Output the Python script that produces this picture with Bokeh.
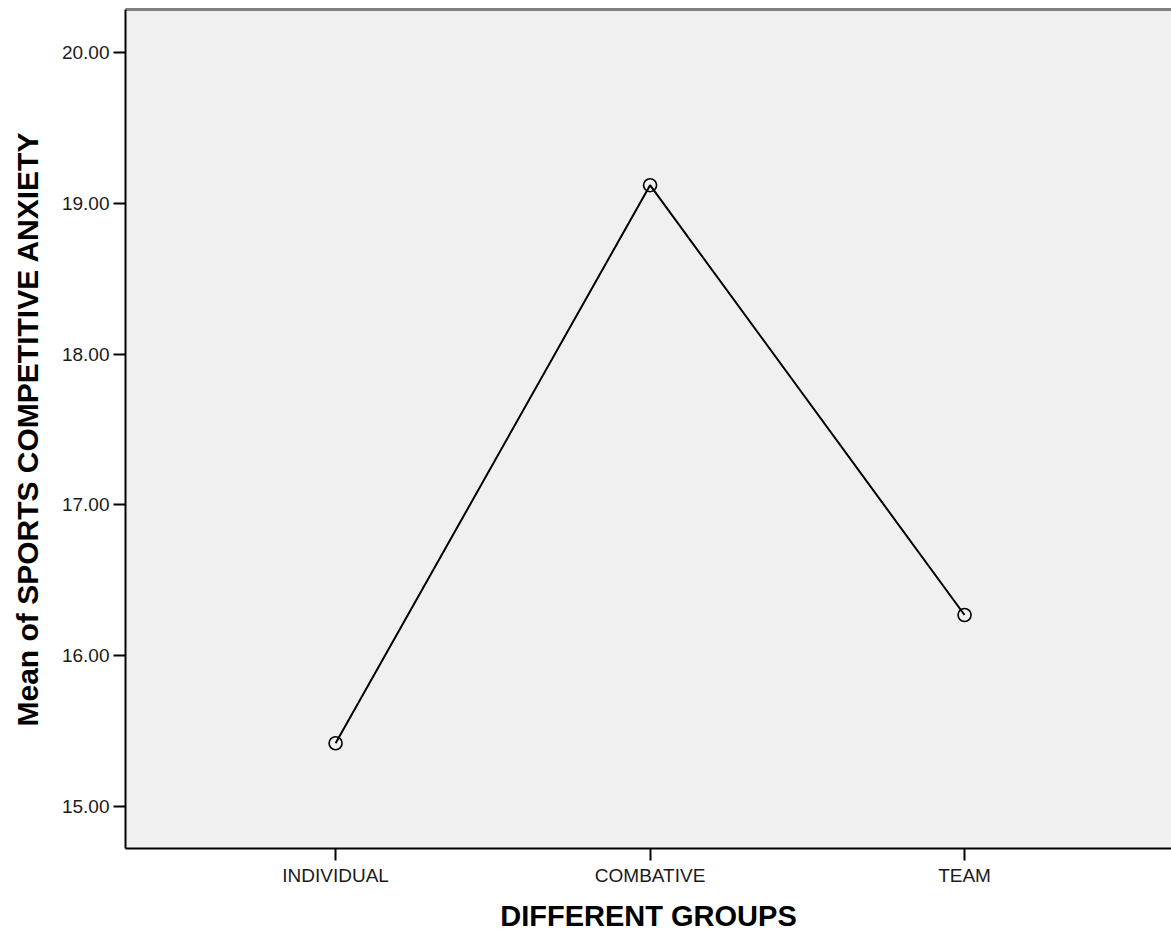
from bokeh.plotting import figure
from bokeh.models import Range1d, FixedTicker, LinearAxis
from bokeh.embed import file_html
from bokeh.resources import INLINE

groups = ["INDIVIDUAL", "COMBATIVE", "TEAM"]
means = [15.42, 19.12, 16.27]
y_ticks = [15.0, 16.0, 17.0, 18.0, 19.0, 20.0]
y_tick_labels = ["15.00", "16.00", "17.00", "18.00", "19.00", "20.00"]

xs = list(range(len(groups)))

p = figure(width=1171, height=934, output_backend="svg", toolbar_location=None,
           x_range=Range1d(-0.668, 2.658), y_range=Range1d(14.722, 20.285),
           min_border_left=125, min_border_right=0, min_border_top=9,
           min_border_bottom=85)
p.background_fill_color = "#f0f0f0"
p.border_fill_color = "white"
p.outline_line_color = None
p.xgrid.visible = False
p.ygrid.visible = False

p.line(xs, means, line_color="black", line_width=2)
p.scatter(xs, means, marker="circle", size=13, fill_color=None,
          line_color="black", line_width=1.6)

font = "Liberation Sans"
p.xaxis.ticker = FixedTicker(ticks=xs)
p.xaxis.major_label_overrides = {i: g for i, g in zip(xs, groups)}
p.yaxis.ticker = FixedTicker(ticks=y_ticks)
p.yaxis.major_label_overrides = {t: l for t, l in zip(y_ticks, y_tick_labels)}

for ax in (p.xaxis, p.yaxis):
    ax.axis_line_color = "black"
    ax.axis_line_width = 2
    ax.major_tick_line_color = "black"
    ax.major_tick_line_width = 2
    ax.major_tick_out = 12
    ax.major_tick_in = 0
    ax.minor_tick_out = 0
    ax.minor_tick_in = 0
    ax.major_label_text_font = font
    ax.major_label_text_font_size = "19px"
    ax.major_label_text_color = "#1a1a1a"
    ax.axis_label_text_font = font
    ax.axis_label_text_font_style = "bold"
    ax.axis_label_text_font_size = "29px"
    ax.axis_label_text_color = "black"

p.yaxis.axis_label_text_font_size = "30px"
p.xaxis.axis_label = "DIFFERENT GROUPS"
p.yaxis.axis_label = "Mean of SPORTS COMPETITIVE ANXIETY"
p.xaxis.major_label_standoff = 4
p.yaxis.major_label_standoff = 4
p.xaxis.axis_label_standoff = 11
p.yaxis.axis_label_standoff = 15

top = LinearAxis(ticker=FixedTicker(ticks=[]), axis_line_color="#808080",
                 axis_line_width=3, major_tick_out=0, major_tick_in=0,
                 minor_tick_out=0, minor_tick_in=0,
                 major_label_text_font_size="0px")
p.add_layout(top, "above")

open("out.html", "w").write(file_html(p, INLINE))
